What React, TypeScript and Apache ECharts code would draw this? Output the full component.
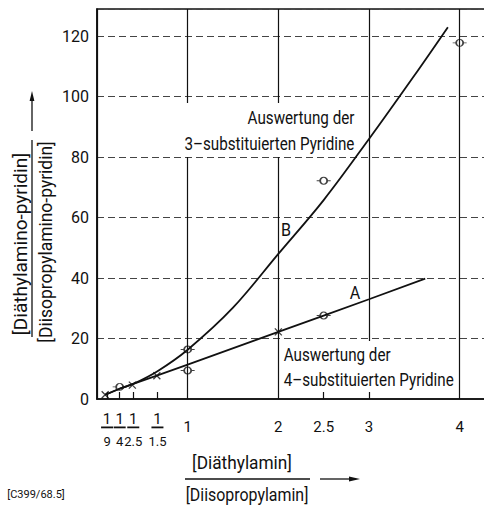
import React, { useEffect, useRef } from "react";
import * as echarts from "echarts";

// ---- data ----
const yTickStep = 20;
const curveB: [number, number][] = [
  [0.09, 1.4], [0.25, 3.4], [0.4, 5.0], [0.667, 9.2], [1, 16.3], [1.5, 30.2],
  [2, 48.0], [2.5, 65.8], [3, 86.0], [3.5, 107.0], [3.87, 123.0],
];
const curveA: [number, number][] = [
  [0.09, 1.4], [0.25, 3.4], [0.4, 5.0], [0.667, 7.8], [1, 11.4], [2, 22.2],
  [2.5, 27.6], [3, 33.0], [3.62, 39.8],
];
const circlePoints: [number, number][] = [
  [0.25, 4.0], [1, 16.4], [1, 9.4], [2.5, 72.2], [2.5, 27.6], [4, 117.8],
];
const crossPoints: [number, number][] = [
  [0.09, 1.4], [0.39, 4.6], [0.66, 7.7], [2, 22.2],
];
const xTickValues = [1 / 9, 1 / 4, 1 / 2.5, 1 / 1.5, 2.5];
const xLabelValues = [1 / 9, 1 / 4, 1 / 2.5, 1 / 1.5, 1, 2, 2.5, 3, 4];
const xLabelTexts = ["1/9", "1/4", "1/2.5", "1/1.5", "1", "2", "2.5", "3", "4"];
const xFractionValues = [1 / 9, 1 / 4, 1 / 2.5, 1 / 1.5];

const FONT = "Roboto, 'Liberation Sans', sans-serif";
const INK = "#111";

const circleBarSymbol =
  "path://M-7,0 L-3.5,0 M3.5,0 L7,0 M-3.5,0 A3.5,3.5 0 1,1 3.5,0 A3.5,3.5 0 1,1 -3.5,0";
const crossSymbol = "path://M0,0 L8,8 M8,0 L0,8";

export default function App() {
  const ref = useRef<HTMLDivElement>(null);
  useEffect(() => {
    if (!ref.current) return;
    const chart = echarts.init(ref.current, undefined, { renderer: "svg" });
    const xFormatter = (v: number) => {
      let idx = -1;
      xLabelValues.forEach((lv, i) => {
        if (Math.abs(lv - v) < 1e-6) idx = i;
      });
      if (idx < 0) return "";
      const t = xLabelTexts[idx];
      if (t.indexOf("/") >= 0) {
        const [n, d] = t.split("/");
        return `{n|${n}}\n{d|${d}}`;
      }
      return `{p|${t}}`;
    };
    const txt = (extra: any) => ({ fontFamily: FONT, fill: INK, ...extra });
    chart.setOption({
      animation: false,
      backgroundColor: "#fff",
      grid: {
        left: 97,
        right: -21,
        top: 9,
        bottom: 108,
        show: true,
        borderColor: INK,
        borderWidth: 1.5,
        backgroundColor: "transparent",
        containLabel: false,
        outerBoundsMode: "none",
      },
      xAxis: [
        {
          type: "value",
          min: 0,
          max: 4.5,
          interval: 1,
          position: "bottom",
          axisLine: { show: true, onZero: false, lineStyle: { color: INK, width: 1.6 } },
          axisTick: { show: false },
          axisLabel: { show: false },
          splitLine: { show: true, lineStyle: { color: INK, width: 1.2 } },
        },
        {
          type: "value",
          min: 0,
          max: 4.5,
          position: "bottom",
          axisLine: { show: false, onZero: false },
          splitLine: { show: false },
          axisTick: {
            show: true,
            inside: true,
            length: 7,
            customValues: xTickValues,
            lineStyle: { color: INK, width: 1.2 },
          },
          axisLabel: {
            show: true,
            customValues: xLabelValues,
            formatter: xFormatter,
            margin: 10,
            color: INK,
            fontFamily: FONT,
            rich: {
              n: { fontSize: 15, lineHeight: 20, fontFamily: FONT, color: INK, align: "center" },
              d: { fontSize: 13, lineHeight: 24, fontFamily: FONT, color: INK, align: "center" },
              p: { fontSize: 15, lineHeight: 36, fontFamily: FONT, color: INK },
            },
          },
        },
      ],
      yAxis: {
        type: "value",
        min: 0,
        max: 129,
        interval: yTickStep,
        axisLine: { show: true, lineStyle: { color: INK, width: 1.6 } },
        axisTick: { show: false },
        axisLabel: {
          color: INK,
          fontSize: 16,
          fontFamily: FONT,
          margin: 8,
          showMaxLabel: false,
        },
        splitLine: { show: true, lineStyle: { color: "#444", width: 1, type: [7, 4] } },
      },
      series: [
        {
          type: "line",
          name: "B",
          data: curveB,
          smooth: 0.35,
          showSymbol: false,
          lineStyle: { color: INK, width: 1.8 },
          z: 3,
        },
        {
          type: "line",
          name: "A",
          data: curveA,
          smooth: false,
          showSymbol: false,
          lineStyle: { color: INK, width: 1.8 },
          z: 3,
        },
        {
          type: "scatter",
          name: "circles",
          data: circlePoints,
          symbol: circleBarSymbol,
          symbolSize: [14, 7],
          itemStyle: { color: "rgba(255,255,255,0)", borderColor: INK, borderWidth: 1.3 },
          z: 4,
        },
        {
          type: "scatter",
          name: "crosses",
          data: crossPoints,
          symbol: crossSymbol,
          symbolSize: 7,
          itemStyle: { color: "rgba(255,255,255,0)", borderColor: INK, borderWidth: 1.3 },
          z: 4,
        },
        {
          // fraction bars under the numerators of the x tick labels 1/9, 1/4, 1/2.5, 1/1.5
          type: "custom",
          name: "fractionBars",
          coordinateSystem: "cartesian2d",
          clip: false,
          silent: true,
          data: xFractionValues.map((v) => [v, 0]),
          renderItem: (_params: any, api: any) => {
            const c = api.coord([api.value(0), api.value(1)]);
            return {
              type: "rect",
              shape: { x: c[0] - 6, y: c[1] + 27.5, width: 12, height: 1.8 },
              style: { fill: INK },
            };
          },
          z: 6,
        },
      ],
      graphic: [
        {
          type: "text",
          z: 1,
          x: 356,
          y: 103,
          scaleX: 0.8,
          style: txt({
            text: "Auswertung der\n3–substituierten Pyridine",
            align: "right",
            verticalAlign: "top",
            fontSize: 19,
            lineHeight: 26,
            backgroundColor: "#fff",
            padding: [1, 2, 1, 3],
          }),
        },
        {
          type: "text",
          z: 1,
          x: 283,
          y: 341,
          scaleX: 0.8,
          style: txt({
            text: "Auswertung der\n4–substituierten Pyridine",
            align: "left",
            verticalAlign: "top",
            fontSize: 19,
            lineHeight: 25,
            backgroundColor: "#fff",
            padding: [1, 2, 0, 1],
          }),
        },
        {
          type: "text",
          z: 5,
          x: 355,
          y: 293,
          scaleX: 0.85,
          style: txt({ text: "A", align: "center", verticalAlign: "middle", fontSize: 19 }),
        },
        {
          type: "text",
          z: 5,
          x: 286,
          y: 230,
          scaleX: 0.85,
          style: txt({ text: "B", align: "center", verticalAlign: "middle", fontSize: 19 }),
        },
        // y-axis title
        {
          type: "text",
          x: 20,
          y: 244,
          rotation: Math.PI / 2,
          style: txt({ text: "[Diäthylamino-pyridin]", align: "center", verticalAlign: "middle", fontSize: 19 }),
        },
        {
          type: "text",
          x: 45,
          y: 242,
          rotation: Math.PI / 2,
          scaleX: 0.92,
          style: txt({ text: "[Diisopropylamino-pyridin]", align: "center", verticalAlign: "middle", fontSize: 19 }),
        },
        { type: "line", shape: { x1: 32, y1: 140, x2: 32, y2: 337 }, style: { stroke: INK, lineWidth: 1.3 } },
        { type: "line", shape: { x1: 32, y1: 131, x2: 32, y2: 99 }, style: { stroke: INK, lineWidth: 1.3 } },
        { type: "polygon", shape: { points: [[32, 91], [29.6, 101], [34.4, 101]] }, style: { fill: INK } },
        // x-axis title
        {
          type: "text",
          x: 242,
          y: 463,
          scaleX: 0.96,
          style: txt({ text: "[Diäthylamin]", align: "center", verticalAlign: "middle", fontSize: 18 }),
        },
        {
          type: "text",
          x: 247,
          y: 495,
          scaleX: 0.885,
          style: txt({ text: "[Diisopropylamin]", align: "center", verticalAlign: "middle", fontSize: 18 }),
        },
        { type: "line", shape: { x1: 185, y1: 479, x2: 310, y2: 479 }, style: { stroke: INK, lineWidth: 1.3 } },
        { type: "line", shape: { x1: 320, y1: 479, x2: 351, y2: 479 }, style: { stroke: INK, lineWidth: 1.3 } },
        { type: "polygon", shape: { points: [[360, 479], [349, 476.6], [349, 481.4]] }, style: { fill: INK } },
        {
          type: "text",
          x: 36,
          y: 494,
          style: txt({ text: "[C399/68.5]", align: "center", verticalAlign: "middle", fontSize: 11 }),
        },
      ],
    });
    return () => chart.dispose();
  }, []);
  return (
    <div
      ref={ref}
      style={{ position: "fixed", left: 0, top: 0, width: 484, height: 507, background: "#fff" }}
    />
  );
}
